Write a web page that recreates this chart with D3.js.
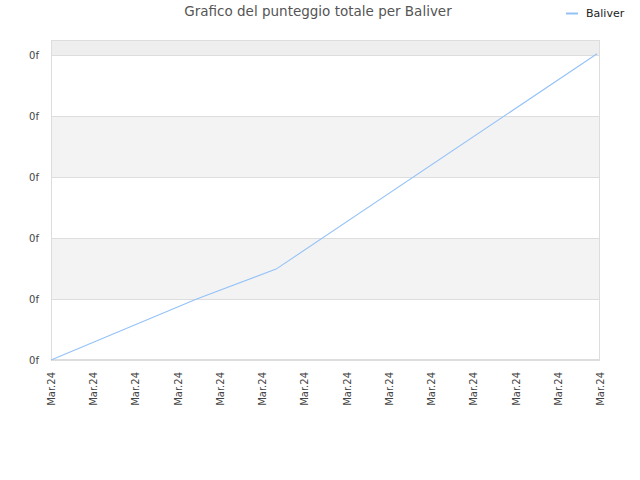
<!DOCTYPE html>
<html>
<head>
<meta charset="utf-8">
<script src="https://cdn.jsdelivr.net/npm/d3@7/dist/d3.min.js"></script>
<style>
  body { margin: 0; background: #fff; }
  svg { display: block; font-family: "DejaVu Sans", sans-serif; }
</style>
</head>
<body>
<svg id="chart" width="640" height="480"></svg>
<script>
const title = 'Grafico del punteggio totale per Baliver';
const seriesName = 'Baliver';
// x positions (in tick-index units) and cumulative scores
const pointX = [0, 3.45, 5.33, 12.93];
const pointY = [0, 1.0, 1.49, 5.02];
const xTickLabels = ['Mar.24', 'Mar.24', 'Mar.24', 'Mar.24', 'Mar.24', 'Mar.24', 'Mar.24',
  'Mar.24', 'Mar.24', 'Mar.24', 'Mar.24', 'Mar.24', 'Mar.24', 'Mar.24'];
const yTickValues = [0, 1, 2, 3, 4, 5];
const yTickLabels = ['0f', '0f', '0f', '0f', '0f', '0f'];

const margin = { top: 40, right: 40, bottom: 120, left: 51 };
const width = 640, height = 480;
const svg = d3.select('#chart');

const x = d3.scaleLinear().domain([0, xTickLabels.length - 1]).range([margin.left, width - margin.right]);
const y = d3.scaleLinear().domain([0, 5.246]).range([height - margin.bottom, margin.top]);

const data = pointX.map((px, i) => ({ x: px, y: pointY[i] }));

// alternating bands
const bandEdges = yTickValues.concat([y.domain()[1]]);
svg.append('g')
  .selectAll('rect')
  .data(bandEdges.slice(0, -1))
  .join('rect')
  .attr('x', margin.left)
  .attr('width', x.range()[1] - margin.left)
  .attr('y', (d, i) => y(bandEdges[i + 1]))
  .attr('height', (d, i) => y(d) - y(bandEdges[i + 1]))
  .attr('fill', (d, i) => (i === bandEdges.length - 2 ? '#eeeeee' : i % 2 === 1 ? '#f3f3f3' : '#ffffff'));

// grid lines
svg.append('g')
  .selectAll('line')
  .data(yTickValues)
  .join('line')
  .attr('x1', margin.left)
  .attr('x2', x.range()[1])
  .attr('y1', (d) => Math.round(y(d)) + 0.5)
  .attr('y2', (d) => Math.round(y(d)) + 0.5)
  .attr('stroke', '#dddddd');

// frame
svg.append('rect')
  .attr('x', margin.left + 0.5)
  .attr('y', margin.top + 0.5)
  .attr('width', x.range()[1] - margin.left - 1)
  .attr('height', y(0) - margin.top - 1)
  .attr('fill', 'none')
  .attr('stroke', '#dddddd');

// y axis
const yAxis = d3.axisLeft(y)
  .tickValues(yTickValues)
  .tickFormat((d, i) => yTickLabels[i])
  .tickSize(0)
  .tickPadding(12);
svg.append('g')
  .attr('transform', `translate(${margin.left},0)`)
  .call(yAxis)
  .call((g) => g.select('.domain').remove())
  .call((g) => g.selectAll('text')
    .attr('fill', '#444')
    .style('font-size', '10px')
    .style('font-family', '"DejaVu Sans", sans-serif'));

// x axis
const xAxis = d3.axisBottom(x)
  .tickValues(d3.range(xTickLabels.length))
  .tickFormat((d, i) => xTickLabels[i])
  .tickSize(0);
svg.append('g')
  .attr('transform', `translate(0,${y(0)})`)
  .call(xAxis)
  .call((g) => g.select('.domain').remove())
  .call((g) => g.selectAll('text')
    .attr('fill', '#444')
    .style('font-size', '10px')
    .style('font-family', '"DejaVu Sans", sans-serif')
    .attr('text-anchor', 'end')
    .attr('transform', 'rotate(-90)')
    .attr('x', -12)
    .attr('y', 0)
    .attr('dy', '0.35em'));

// series line
const line = d3.line().x((d) => x(d.x)).y((d) => y(d.y));
svg.append('path')
  .datum(data)
  .attr('d', line)
  .attr('fill', 'none')
  .attr('stroke', '#94c2f7')
  .attr('stroke-width', 1.1);

// title
svg.append('text')
  .attr('x', 318)
  .attr('y', 16)
  .attr('text-anchor', 'middle')
  .attr('fill', '#555')
  .style('font-size', '13.5px')
  .text(title);

// legend
svg.append('line')
  .attr('x1', 566).attr('x2', 578)
  .attr('y1', 13.5).attr('y2', 13.5)
  .attr('stroke', '#94c2f7')
  .attr('stroke-width', 2);
svg.append('text')
  .attr('x', 586)
  .attr('y', 17)
  .attr('fill', '#222')
  .style('font-size', '11px')
  .text(seriesName);
</script>
</body>
</html>
